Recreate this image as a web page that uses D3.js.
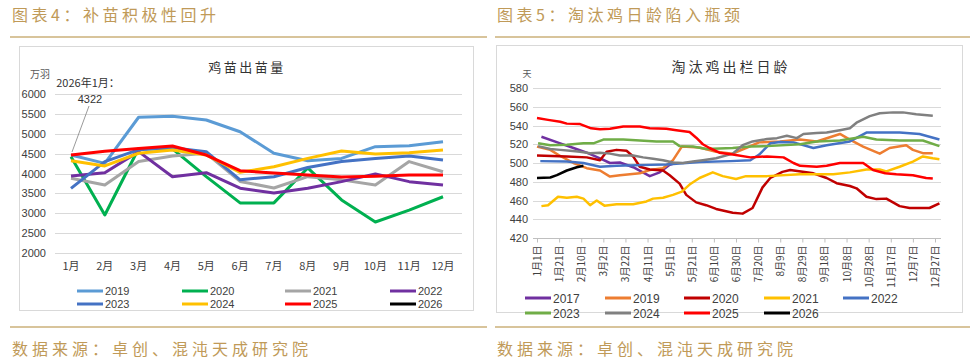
<!DOCTYPE html>
<head>
  <meta charset="utf-8" />
  <script src="https://d3js.org/d3.v7.min.js"></script>
  <style>
    body { margin: 0; background: #fff; }
    text { font-family: "Liberation Sans", "Noto Sans CJK SC", sans-serif; }
    .cjk { font-family: "Noto Sans CJK SC", sans-serif; }
  </style>
</head>
<body>
<div id="chart"></div>
<script>

// ---------- data : chart 4 (鸡苗出苗量, 万羽) ----------
var months = ["1月","2月","3月","4月","5月","6月","7月","8月","9月","10月","11月","12月"];
var leftYears = ["2019","2020","2021","2022","2023","2024","2025","2026"];
var chick2019 = [4465,4255,5415,5440,5345,5050,4510,4320,4380,4675,4700,4800];
var chick2020 = [4420,2955,4630,4620,3920,3260,3260,4140,3335,2780,3080,3415];
var chick2021 = [3880,3710,4300,4440,4510,3800,3635,3920,3840,3710,4300,4045];
var chick2022 = [3935,4020,4550,3920,4020,3630,3510,3630,3795,3990,3795,3710];
var chick2023 = [3625,4300,4600,4650,4550,3840,3920,4150,4300,4380,4440,4340];
var chick2024 = [4320,4190,4510,4590,4465,4030,4170,4380,4565,4490,4525,4590];
var chick2025 = [4465,4560,4630,4690,4465,4070,4010,3960,3910,3930,3960,3960];
var chick2026 = [4322];
var leftTicks = [2000,2500,3000,3500,4000,4500,5000,5500,6000];

// ---------- data : chart 5 (淘汰鸡出栏日龄, 天) ; [day of year, value] ----------
var dateLabels = ["1月1日","1月21日","2月10日","3月2日","3月22日","4月11日","5月1日","5月21日","6月10日","6月30日",
                  "7月20日","8月9日","8月29日","9月18日","10月8日","10月28日","11月17日","12月7日","12月27日"];
var rightYears = ["2017","2019","2020","2021","2022","2023","2024","2025","2026"];
var age2017 = [[4,528],[21,521],[33,516],[45,511],[57,505],[66,500],[75,500.5],[87,495.5],[102,486],[111,490],[120,498],[125,500]];
var age2019 = [[0,517.5],[12,514],[21,507.5],[33,500],[45,494.5],[57,492],[66,485.5],[75,487],[93,489],[102,492.5],[114,494.5],[123,503],
               [131,517.5],[147,516.5],[162,512],[177,510],[189,516],[201,522],[220,523],[238,525],[253,523],[274,531],[283,525],
               [295,517.5],[310,510],[319,516],[334,519],[340,514],[349,510.5],[358,510.5]];
var age2020 = [[0,508],[27,507],[45,506],[57,503],[63,512],[72,514],[81,513],[87,507],[93,496],[102,493],[114,492],[120,487],[129,478],
               [135,466],[144,458],[153,455],[162,451],[177,447],[186,446],[195,452],[204,474],[211,484],[222,490.5],[229,492.5],
               [250,489],[262,484],[271,478.5],[283,475.5],[289,473],[298,464],[307,461.5],[316,462],[328,454],[337,452],[355,452],[364,457]];
var age2021 = [[4,454],[10,455],[19,464],[27,463],[36,464],[42,462],[48,455],[54,460],[61,454.5],[72,456],[87,456],[99,459],[105,462],
               [114,463],[123,466],[131,469.5],[138,477],[147,484],[159,490],[168,486],[180,483],[189,486],[208,486],[238,488],
               [268,488],[283,490],[298,493],[310,493],[316,491],[328,496],[340,501.5],[349,507],[358,505],[364,504]];
var age2022 = [[3,502],[27,501.5],[42,500],[57,496],[72,497],[102,498],[117,498.5],[147,501],[175,502],[193,503],[201,509],[211,521],
               [220,522.5],[232,522],[250,516],[262,519],[283,523],[298,532.5],[328,532.5],[346,531],[364,525]];
var age2023 = [[1,521],[12,519],[27,519.5],[42,521],[51,521],[60,525],[78,525],[93,524],[108,523],[123,523],[129,518],[141,517.5],
               [153,515],[177,516],[193,517.5],[208,518],[238,520],[253,523],[274,524],[295,528],[307,525],[328,524],[349,524],[364,518]];
var age2024 = [[1,518],[12,515],[21,514],[30,513],[39,512],[48,510.5],[57,511],[66,510],[75,508],[87,508],[96,506],[105,504.5],
               [114,503],[123,500.5],[132,500],[141,501.5],[150,503],[162,505],[177,510],[186,519],[195,523],[208,525.5],[217,526.5],
               [226,529],[235,526.5],[241,531],[253,532],[262,532.6],[274,535],[283,537],[289,543],[301,550],[310,553],[322,554],
               [331,554],[343,552],[358,550.5]];
var age2025 = [[0,548],[10,546],[21,544],[27,542],[39,541.5],[49,537],[57,536],[66,536.5],[78,539],[93,539],[102,537],[117,536.5],
               [126,535],[138,533],[144,527],[150,520],[156,516],[165,511],[177,509],[193,506],[208,507],[223,506],[232,500],
               [238,497],[253,496],[262,497],[274,500],[289,500],[295,500],[304,492.6],[315,489],[325,488],[340,487],[352,484],[358,483.5]];
var age2026 = [[0,484],[12,484.5],[18,487],[27,492],[36,495.5],[42,497]];
var rightTicks = [420,440,460,480,500,520,540,560,580];

var gold = "#c09a58";
var leftColor = {"2019":"#5b9bd5","2020":"#00b050","2021":"#a5a5a5","2022":"#7030a0",
                 "2023":"#4472c4","2024":"#ffc000","2025":"#ff0000","2026":"#000000"};
var rightColor = {"2017":"#7030a0","2019":"#ed7d31","2020":"#c00000","2021":"#ffc000","2022":"#4472c4",
                  "2023":"#70ad47","2024":"#808080","2025":"#ff0000","2026":"#000000"};

var svg = d3.select("#chart").append("svg")
  .attr("width", 979).attr("height", 363)
  .style("background", "#fff");

// ---------- page headers / footers ----------
function pageText(x, y, txt, sp) {
  svg.append("text").attr("class", "cjk").attr("x", x).attr("y", y)
    .style("font-size", "16px").style("letter-spacing", sp + "px").style("fill", gold).text(txt);
}
pageText(12, 21, "图表4：补苗积极性回升", 3.5);
pageText(497, 21, "图表5：淘汰鸡日龄陷入瓶颈", 3.5);
[[10,487],[495,970]].forEach(function(s) {
  svg.append("line").attr("x1", s[0]).attr("x2", s[1]).attr("y1", 37).attr("y2", 37)
    .style("stroke", "#cbb07a").style("stroke-width", 1.5);
  svg.append("line").attr("x1", s[0]).attr("x2", s[1]).attr("y1", 327).attr("y2", 327)
    .style("stroke", "#cbb07a").style("stroke-width", 1.5);
});
pageText(12, 355, "数据来源：卓创、混沌天成研究院", 4);
pageText(497, 355, "数据来源：卓创、混沌天成研究院", 4);

// ---------- frames ----------
svg.append("rect").attr("x", 19.5).attr("y", 46.5).attr("width", 454).attr("height", 264)
  .style("fill", "none").style("stroke", "#d9d9d9");
svg.append("rect").attr("x", 496.5).attr("y", 45.5).attr("width", 466).attr("height", 267)
  .style("fill", "none").style("stroke", "#d9d9d9");

// =============== chart 4 ===============
var x1 = d3.scalePoint().domain(months).range([71, 443]);
var y1 = d3.scaleLinear().domain([2000, 6000]).range([253, 94]);

svg.append("text").attr("class", "cjk").attr("x", 247).attr("y", 72).attr("text-anchor", "middle")
  .style("font-size", "13px").style("letter-spacing", "2.5px").style("fill", "#333").text("鸡苗出苗量");
svg.append("text").attr("class", "cjk").attr("x", 40).attr("y", 78).attr("text-anchor", "middle")
  .style("font-size", "10px").style("fill", "#595959").text("万羽");

// gridlines + y labels
svg.append("g").selectAll("line").data(leftTicks).enter().append("line")
  .attr("x1", 55).attr("x2", 462)
  .attr("y1", function(d) { return Math.round(y1(d)) + 0.5; })
  .attr("y2", function(d) { return Math.round(y1(d)) + 0.5; })
  .style("stroke", "#d9d9d9");
svg.append("g").selectAll("text").data(leftTicks).enter().append("text")
  .attr("x", 46).attr("y", function(d) { return y1(d) + 4; })
  .attr("text-anchor", "end").style("font-size", "11px").style("fill", "#404040")
  .text(function(d) { return d; });
// x labels
svg.append("g").selectAll("text").data(months).enter().append("text").attr("class", "cjk")
  .attr("x", function(d) { return x1(d); }).attr("y", 270)
  .attr("text-anchor", "middle").style("font-size", "11px").style("fill", "#404040")
  .text(function(d) { return d; });

var leftSeries = [chick2019, chick2020, chick2021, chick2022, chick2023, chick2024, chick2025, chick2026];
var line1 = d3.line()
  .x(function(d, i) { return x1(months[i]); })
  .y(function(d) { return y1(d); });
svg.append("g").selectAll("path").data(leftSeries).enter().append("path")
  .attr("d", line1)
  .style("fill", "none")
  .style("stroke", function(d, i) { return leftColor[leftYears[i]]; })
  .style("stroke-width", 3)
  .style("stroke-linejoin", "round");

// annotation for 2026-01
svg.append("line").attr("x1", 89).attr("y1", 106).attr("x2", x1("1月") + 1).attr("y2", y1(chick2025[0]) - 3)
  .style("stroke", "#808080").style("stroke-width", 0.8);
svg.append("text").attr("class", "cjk").attr("x", 88).attr("y", 87).attr("text-anchor", "middle")
  .style("font-size", "11px").style("fill", "#333").text("2026年1月：");
svg.append("text").attr("x", 90).attr("y", 103).attr("text-anchor", "middle")
  .style("font-size", "11px").style("fill", "#333").text(chick2026[0]);

// legend
var leftLegX = [77, 182, 285, 390];
leftYears.forEach(function(k, i) {
  var lx = leftLegX[i % 4], ly = 291 + Math.floor(i / 4) * 13;
  svg.append("line").attr("x1", lx).attr("x2", lx + 26).attr("y1", ly).attr("y2", ly)
    .style("stroke", leftColor[k]).style("stroke-width", 3);
  svg.append("text").attr("x", lx + 28).attr("y", ly + 4)
    .style("font-size", "11px").style("fill", "#404040").text(k);
});

// =============== chart 5 ===============
var x2 = d3.scaleLinear().domain([0, 360]).range([537, 935]);
var y2 = d3.scaleLinear().domain([420, 580]).range([238, 88]);

svg.append("text").attr("class", "cjk").attr("x", 731).attr("y", 72).attr("text-anchor", "middle")
  .style("font-size", "14px").style("letter-spacing", "3px").style("fill", "#333").text("淘汰鸡出栏日龄");
svg.append("text").attr("class", "cjk").attr("x", 527).attr("y", 77).attr("text-anchor", "middle")
  .style("font-size", "9px").style("fill", "#595959").text("天");

svg.append("g").selectAll("line").data(rightTicks.slice(1)).enter().append("line")
  .attr("x1", 533).attr("x2", 941)
  .attr("y1", function(d) { return Math.round(y2(d)) + 0.5; })
  .attr("y2", function(d) { return Math.round(y2(d)) + 0.5; })
  .style("stroke", "#d9d9d9");
svg.append("g").selectAll("text").data(rightTicks).enter().append("text")
  .attr("x", 528).attr("y", function(d) { return y2(d) + 4; })
  .attr("text-anchor", "end").style("font-size", "11px").style("fill", "#404040")
  .text(function(d) { return d; });

// bottom axis with date labels every 20 days
var xAxis = d3.axisBottom(x2)
  .tickValues(d3.range(0, 361, 20))
  .tickSize(4)
  .tickFormat(function(d, i) { return dateLabels[i]; });
var gx = svg.append("g").attr("transform", "translate(0," + (Math.round(y2(420)) + 0.5) + ")").call(xAxis);
gx.select(".domain").attr("d", "M533,0H941").style("stroke", "#bfbfbf");
gx.selectAll(".tick line").style("stroke", "#bfbfbf");
gx.selectAll(".tick text")
  .attr("class", "cjk")
  .attr("transform", "rotate(-90)")
  .attr("x", -7).attr("y", 0).attr("dy", "0.35em")
  .style("text-anchor", "end")
  .style("font-size", "10px").style("fill", "#404040");

var rightSeries = [age2017, age2019, age2020, age2021, age2022, age2023, age2024, age2025, age2026];
var line2 = d3.line()
  .x(function(d) { return x2(d[0]); })
  .y(function(d) { return y2(d[1]); });
svg.append("g").selectAll("path").data(rightSeries).enter().append("path")
  .attr("d", line2)
  .style("fill", "none")
  .style("stroke", function(d, i) { return rightColor[rightYears[i]]; })
  .style("stroke-width", 2.5)
  .style("stroke-linejoin", "round");

var rightLegX = [525, 605, 684, 764, 843];
rightYears.forEach(function(k, i) {
  var lx = rightLegX[i % 5], ly = 298 + Math.floor(i / 5) * 15;
  svg.append("line").attr("x1", lx).attr("x2", lx + 26).attr("y1", ly).attr("y2", ly)
    .style("stroke", rightColor[k]).style("stroke-width", 3);
  svg.append("text").attr("x", lx + 28).attr("y", ly + 4.5)
    .style("font-size", "12px").style("fill", "#404040").text(k);
});

</script>
</body>
</html>
